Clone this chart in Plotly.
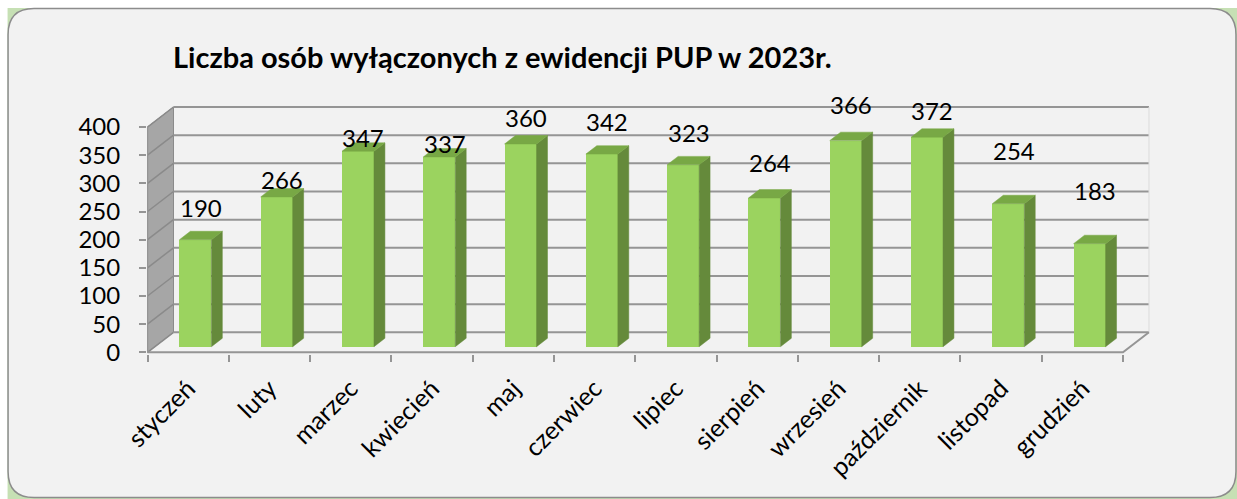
import plotly.graph_objects as go

# ---- data -------------------------------------------------------------
months = ["styczeń", "luty", "marzec", "kwiecień", "maj", "czerwiec",
          "lipiec", "sierpień", "wrzesień", "październik", "listopad", "grudzień"]
persons = [190, 266, 347, 337, 360, 342, 323, 264, 366, 372, 254, 183]
y_ticks = [0, 50, 100, 150, 200, 250, 300, 350, 400]
title_text = "Liczba osób wyłączonych z ewidencji PUP w 2023r."

# label lift above each bar top (px), as placed on the chart
label_lift = [32, 17, 14, 13, 26, 33, 32, 36, 36, 27, 53, 53]

# ---- geometry (pixels) -----------------------------------------------
W, H = 1237, 499
PX_CAT = 81.33          # px per category slot
PX_VAL = 0.5625         # px per unit of value
LEFT_PX = 146.5         # front-left corner of the floor
FLOOR_PX = 352          # front edge of the floor
RIGHT_PX = 1165
TOP_PX = 95
DEPTH_DX, DEPTH_DY = 26, 20     # full depth of the 3-D box, px

X0 = -0.5 - (147 - LEFT_PX) / PX_CAT
Y0 = -3
x_range = [X0, X0 + (RIGHT_PX - LEFT_PX) / PX_CAT]
y_range = [Y0, Y0 + (FLOOR_PX - Y0 * PX_VAL - TOP_PX) / PX_VAL]
margin_b = H - (FLOOR_PX - Y0 * PX_VAL)
margin = dict(l=LEFT_PX, r=W - RIGHT_PX, t=TOP_PX, b=margin_b)
plot_w = RIGHT_PX - LEFT_PX
plot_h = H - TOP_PX - margin_b


def dx(d):
    return d * DEPTH_DX / PX_CAT


def dy(d):
    return d * DEPTH_DY / PX_VAL


def paper(px, py):
    return (px - LEFT_PX) / plot_w, (H - margin_b - py) / plot_h


def poly(xs, ys):
    pts = [f"{x:.5f},{y:.5f}" for x, y in zip(xs, ys)]
    return "M " + " L ".join(pts) + " Z"


n = len(months)
x_first, x_last = -0.5, n - 0.5
vmax = y_ticks[-1]

GRID = "#959595"
WALL = "#a6a6a6"
WALL_LINE = "#8a8a8a"
FRONT = "#9bd35f"
SIDE = "#658a3b"
TOPC = "#78a845"
FONT = "Lato, 'Open Sans', sans-serif"

fig = go.Figure()

# ---- frame behind the chart -------------------------------------------
gx0, gy0 = paper(7, 8)
gx1, gy1 = paper(W + 2, H + 2)
fig.add_shape(type="rect", xref="paper", yref="paper", x0=gx0, y0=gy1, x1=gx1, y1=gy0,
              fillcolor="#c6e0b4", line=dict(width=0), layer="below")

R = 26
L, T, Rt, B = 7.5, 8.5, 1236, 497


def pt(px, py):
    a, b = paper(px, py)
    return f"{a:.5f},{b:.5f}"


frame_path = (f"M {pt(L + R, T)} L {pt(Rt - R, T)} Q {pt(Rt, T)} {pt(Rt, T + R)} "
              f"L {pt(Rt, B - R)} Q {pt(Rt, B)} {pt(Rt - R, B)} "
              f"L {pt(L + R, B)} Q {pt(L, B)} {pt(L, B - R)} "
              f"L {pt(L, T + R)} Q {pt(L, T)} {pt(L + R, T)} Z")
fig.add_shape(type="path", xref="paper", yref="paper", path=frame_path,
              fillcolor="#f2f2f2", line=dict(color="#8c8c8c", width=1.5), layer="below")

# ---- 3-D box: floor, side wall, back wall grid -------------------------
fig.add_shape(type="path", xref="x", yref="y", layer="below",
              path=poly([x_first, x_last, x_last + dx(1), x_first + dx(1)],
                        [0, 0, dy(1), dy(1)]),
              fillcolor="#f2f2f2", line=dict(width=0))
fig.add_shape(type="path", xref="x", yref="y", layer="below",
              path=poly([x_first, x_first, x_first + dx(1), x_first + dx(1)],
                        [0, vmax, vmax + dy(1), dy(1)]),
              fillcolor=WALL, line=dict(color=WALL_LINE, width=1))
for v in y_ticks:
    fig.add_shape(type="line", xref="x", yref="y", layer="below",
                  x0=x_first, y0=v, x1=x_first + dx(1), y1=v + dy(1),
                  line=dict(color=WALL_LINE, width=1.5))
    fig.add_shape(type="line", xref="x", yref="y", layer="below",
                  x0=x_first + dx(1), y0=v + dy(1), x1=x_last + dx(1), y1=v + dy(1),
                  line=dict(color=GRID, width=2))
fig.add_shape(type="line", xref="x", yref="y", layer="below",
              x0=x_last + dx(1), y0=dy(1), x1=x_last + dx(1), y1=vmax + dy(1),
              line=dict(color="#dcdcdc", width=1))
fig.add_shape(type="path", xref="x", yref="y", layer="below",
              path=f"M {x_first},0 L {x_last},0 L {x_last + dx(1):.5f},{dy(1):.5f}",
              line=dict(color=GRID, width=2))
fig.add_shape(type="line", xref="x", yref="y", layer="below",
              x0=x_first, y0=0, x1=x_first, y1=vmax,
              line=dict(color=GRID, width=1.5))

# ---- 3-D columns -------------------------------------------------------
D_FRONT, D_BAR = 0.28, 0.42
bar_w = 32 / PX_CAT
base = dy(D_FRONT)
centers = [i + dx(D_FRONT) for i in range(n)]

fig.add_trace(go.Bar(x=centers, y=persons, base=[base] * n, width=bar_w,
                     marker=dict(color=FRONT, line=dict(width=0)),
                     showlegend=False, hoverinfo="x+y"))

sx, sy, tx, ty = [], [], [], []
for c, v in zip(centers, persons):
    xl, xr = c - bar_w / 2, c + bar_w / 2
    top = base + v
    sx += [xr, xr, xr + dx(D_BAR), xr + dx(D_BAR), xr, None]
    sy += [base, top, top + dy(D_BAR), base + dy(D_BAR), base, None]
    tx += [xl, xr, xr + dx(D_BAR), xl + dx(D_BAR), xl, None]
    ty += [top, top, top + dy(D_BAR), top + dy(D_BAR), top, None]

fig.add_trace(go.Scatter(x=sx, y=sy, fill="toself", fillcolor=SIDE,
                         mode="lines", line=dict(color=SIDE, width=0.5),
                         hoverinfo="skip", showlegend=False))
fig.add_trace(go.Scatter(x=tx, y=ty, fill="toself", fillcolor=TOPC,
                         mode="lines", line=dict(color=TOPC, width=0.5),
                         hoverinfo="skip", showlegend=False))

# value labels
for c, v, lift in zip(centers, persons, label_lift):
    fig.add_annotation(x=c + dx(D_BAR) / 2, y=base + v, text=str(v),
                       showarrow=False, yshift=lift, yanchor="middle",
                       font=dict(family=FONT, size=24, color="#000000"))

# title
tx0, ty0 = paper(171, 57)
fig.add_annotation(x=tx0, y=ty0, xref="paper", yref="paper", text=f"<b>{title_text}</b>",
                   showarrow=False, xanchor="left", yanchor="middle",
                   font=dict(family=FONT, size=29, color="#000000"))

# ---- axes --------------------------------------------------------------
fig.update_xaxes(range=x_range, tickmode="array", tickvals=list(range(n)), ticktext=months,
                 tickangle=-45, ticks="", showgrid=False, zeroline=False, showline=False,
                 tickfont=dict(family=FONT, size=25, color="#000000"),
                 ticklabelstandoff=14,
                 minor=dict(tickmode="array",
                            tickvals=[i - 0.5 for i in range(n + 1)],
                            ticks="outside", ticklen=7, tickwidth=1.5, tickcolor=GRID,
                            showgrid=False))
fig.update_yaxes(range=y_range, tickmode="array", tickvals=y_ticks,
                 ticktext=[str(v) for v in y_ticks], ticks="outside", ticklen=7,
                 tickwidth=1.5, tickcolor=GRID, showgrid=False, zeroline=False,
                 showline=False, ticklabelstandoff=14,
                 tickfont=dict(family=FONT, size=24, color="#000000"))

fig.update_layout(width=W, height=H, margin=margin, paper_bgcolor="#ffffff",
                  plot_bgcolor="rgba(0,0,0,0)", bargap=0, showlegend=False)

fig.write_html("out.html")
